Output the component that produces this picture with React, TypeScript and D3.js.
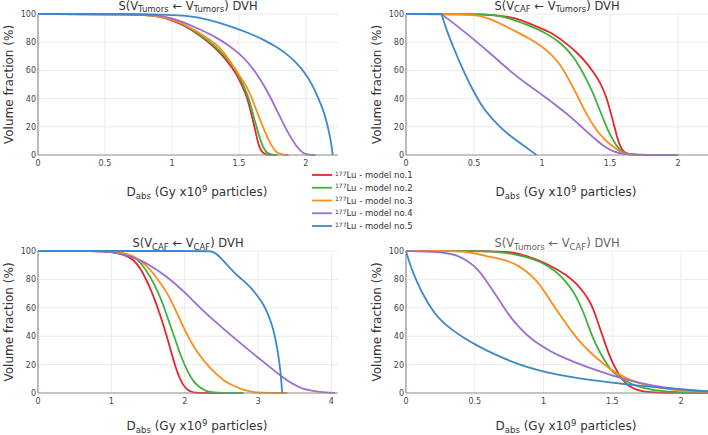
import React from "react";
import * as d3 from "d3";

type P = [number, number];

const modelNames = ["model no.1", "model no.2", "model no.3", "model no.4", "model no.5"];
const modelColors = ["#e8252a", "#3fb03f", "#ff8c1a", "#9d6dcf", "#3c88cc"];

const yTicks = [0, 20, 40, 60, 80, 100];
const xTicksA = [0, 0.5, 1, 1.5, 2];
const xTicksC = [0, 1, 2, 3, 4];

// Panel A: S(V_Tumors <- V_Tumors)
const aRed: P[] = [[0,100],[0.75,100],[0.9,98.5],[1.0,95.5],[1.08,92.5],[1.2,85.5],[1.33,75.6],[1.41,67],[1.48,58],[1.52,50],[1.56,41.4],[1.585,32],[1.61,22.5],[1.63,14],[1.644,8.3],[1.66,4],[1.68,1.2],[1.72,0],[1.76,0]];
const aGreen: P[] = [[0,100],[0.75,100],[0.9,98.5],[1.0,96],[1.08,93],[1.2,86],[1.33,76.8],[1.41,68.5],[1.48,60],[1.52,52],[1.56,43.8],[1.59,35],[1.61,27],[1.635,19],[1.66,10.6],[1.685,4.5],[1.71,1.2],[1.75,0],[1.79,0]];
const aOrange: P[] = [[0,100],[0.75,100],[0.9,98.5],[1.0,96],[1.08,93.4],[1.2,87],[1.33,79],[1.4,71.5],[1.46,62.6],[1.51,55.5],[1.56,48.4],[1.6,39.5],[1.63,32],[1.67,22],[1.71,13],[1.75,5.5],[1.78,1.5],[1.83,0],[1.87,0]];
const aPurple: P[] = [[0,100],[0.8,100],[0.9,99],[1.0,97],[1.08,94.5],[1.2,89.5],[1.33,83.5],[1.42,78],[1.51,71.5],[1.57,65.5],[1.63,58],[1.68,50.5],[1.73,42],[1.78,32.5],[1.83,22.5],[1.88,13.5],[1.93,6],[1.97,2],[2.0,0.5],[2.05,0],[2.07,0]];
const aBlue: P[] = [[0,100],[1.06,100],[1.2,97.5],[1.33,94.5],[1.45,90.8],[1.58,86.3],[1.68,82],[1.78,76.8],[1.86,71.5],[1.93,65.5],[2.0,57.5],[2.05,49.5],[2.09,41],[2.13,32],[2.16,22],[2.18,13],[2.195,5],[2.2,0]];

// Panel B: S(V_CAF <- V_Tumors)
const bRed: P[] = [[0,100],[0.64,100],[0.8,97.5],[0.936,92],[1.06,87.5],[1.18,79],[1.26,72.5],[1.33,65],[1.38,58.5],[1.43,51],[1.47,42],[1.5,32],[1.53,21],[1.55,13],[1.575,6],[1.6,2],[1.64,0.5],[1.7,0],[2.0,0]];
const bGreen: P[] = [[0,100],[0.52,100],[0.65,99.5],[0.765,97],[0.9,92],[1.01,87.5],[1.13,80.5],[1.23,70],[1.28,62],[1.33,53],[1.37,45],[1.4,38],[1.45,25.5],[1.5,14],[1.55,6],[1.59,2],[1.63,0.5],[1.7,0],[2.0,0]];
const bOrange: P[] = [[0,100],[0.45,100],[0.55,99],[0.69,93.5],[0.8,88],[0.9,83],[0.985,78],[1.05,73],[1.11,67],[1.16,60],[1.2,53],[1.25,44],[1.3,34],[1.35,25],[1.4,17.7],[1.45,12],[1.5,7.5],[1.57,2.5],[1.62,0.5],[1.7,0],[2.0,0]];
const bPurple: P[] = [[0,100],[0.26,100],[0.26,100],[0.35,93.5],[0.5,82],[0.65,69.5],[0.77,59],[0.9,49.5],[1.01,42],[1.1,35.5],[1.2,28],[1.3,19],[1.4,10.5],[1.47,5],[1.53,2.2],[1.6,0.6],[1.7,0.1],[1.9,0],[2.0,0]];
const bBlue: P[] = [[0,100],[0.26,100],[0.26,100],[0.26,100],[0.3,88],[0.35,76],[0.4,64.5],[0.45,54],[0.5,44.5],[0.556,35],[0.6,29.5],[0.667,22],[0.75,14.5],[0.86,7],[0.96,0]];

// Panel C: S(V_CAF <- V_CAF)
const cRed: P[] = [[0,100],[0.8,100],[1.0,99.5],[1.2,97],[1.3,94],[1.4,88],[1.53,74],[1.62,62],[1.71,48],[1.8,32],[1.89,15],[1.98,5],[2.05,1.5],[2.12,0.3],[2.2,0],[2.6,0]];
const cGreen: P[] = [[0,100],[0.8,100],[1.0,99.5],[1.2,97.5],[1.3,96],[1.4,92],[1.53,82],[1.62,73],[1.71,62],[1.78,51],[1.85,41],[1.92,30],[1.98,22],[2.05,14],[2.12,8],[2.2,4],[2.3,1],[2.4,0.3],[2.5,0],[2.8,0]];
const cOrange: P[] = [[0,100],[0.9,100],[1.1,99.5],[1.3,97],[1.48,90],[1.62,81],[1.76,71],[1.89,57],[2.03,41],[2.12,33],[2.21,26],[2.32,19],[2.44,13],[2.55,8],[2.67,5],[2.78,2.5],[2.89,1],[3.0,0.3],[3.12,0],[3.4,0]];
const cPurple: P[] = [[0,100],[0.8,100],[1.0,99.5],[1.3,96],[1.5,91],[1.76,82],[2.0,71],[2.21,60],[2.44,49],[2.67,39],[2.9,29],[3.0,25],[3.12,20],[3.24,15],[3.35,10.5],[3.47,6.5],[3.58,3.5],[3.7,1.8],[3.8,1],[4.0,0.2],[4.05,0]];
const cBlue: P[] = [[0,100],[2.35,100],[2.35,100],[2.42,98.5],[2.48,96],[2.58,90],[2.67,85],[2.78,80],[2.89,75],[3.0,68],[3.08,62],[3.14,55],[3.19,48],[3.23,40],[3.26,32],[3.29,22],[3.31,13],[3.32,6],[3.33,0]];

// Panel D: S(V_Tumors <- V_CAF)
const dRed: P[] = [[0,100],[0.635,100],[0.75,99.3],[0.85,97.5],[0.926,94.8],[1.047,90],[1.17,83],[1.23,78],[1.29,71.4],[1.33,65.5],[1.36,59.6],[1.385,53],[1.41,45.5],[1.435,38.5],[1.46,31.5],[1.485,25],[1.51,19.7],[1.556,11.5],[1.6,6.5],[1.63,4.4],[1.68,2],[1.75,0.6],[1.85,0.1],[2.2,0]];
const dGreen: P[] = [[0,100],[0.514,100],[0.65,99.5],[0.756,98.4],[0.87,96],[0.975,92.5],[1.05,88.5],[1.12,83],[1.17,77.5],[1.217,71.5],[1.255,64.5],[1.29,57],[1.325,47.5],[1.36,38.5],[1.4,30.5],[1.435,24.4],[1.47,19],[1.51,14],[1.58,9.2],[1.68,4.5],[1.8,1.8],[1.95,0.6],[2.1,0.2],[2.2,0.1]];
const dOrange: P[] = [[0,100],[0.37,100],[0.45,99.3],[0.562,97],[0.66,95],[0.756,92.5],[0.82,89.5],[0.878,85.5],[0.93,81],[0.975,76],[1.02,69.5],[1.07,62],[1.12,55],[1.17,48],[1.22,41.5],[1.265,36],[1.33,29.5],[1.387,24.5],[1.45,19.5],[1.51,15],[1.57,12],[1.63,9.2],[1.7,6.8],[1.8,4.2],[1.95,2],[2.1,0.8],[2.2,0.4]];
const dPurple: P[] = [[0,100],[0.2,99.5],[0.3,98.5],[0.37,97],[0.43,94],[0.49,90],[0.54,85],[0.587,78.5],[0.64,71],[0.684,64.5],[0.73,57.5],[0.78,51],[0.84,44.5],[0.9,39],[0.97,34],[1.047,29.5],[1.13,25.5],[1.217,22],[1.41,15],[1.6,9.2],[1.8,5],[2.0,2.3],[2.2,1]];
const dBlue: P[] = [[0,100],[0,100],[0.03,90],[0.078,78.5],[0.13,68],[0.2,57],[0.26,50.5],[0.32,45.5],[0.41,39.5],[0.514,33.5],[0.63,27.8],[0.756,22.5],[0.88,18.3],[1.0,15],[1.24,10.3],[1.48,7.5],[1.65,5.6],[1.85,3.8],[2.05,2.2],[2.2,1.2]];

type Panel = {
  id: string;
  src: string;
  dst: string;
  titleColor: string;
  left: number; right: number; top: number; bottom: number;
  xMax: number;
  xTicks: number[];
  series: P[][];
  yTitleX: number;
  titleY: number;
  xTitleY: number;
};

const panels: Panel[] = [
  { id: "a", src: "Tumors", dst: "Tumors", titleColor: "#333", left: 38, right: 338, top: 14, bottom: 155, xMax: 2.24, xTicks: xTicksA, series: [aRed, aGreen, aOrange, aPurple, aBlue], yTitleX: 13, titleY: 9.5, xTitleY: 196 },
  { id: "b", src: "CAF", dst: "Tumors", titleColor: "#333", left: 406, right: 708, top: 14, bottom: 155, xMax: 2.22, xTicks: xTicksA, series: [bRed, bGreen, bOrange, bPurple, bBlue], yTitleX: 381, titleY: 9.5, xTitleY: 196 },
  { id: "c", src: "CAF", dst: "CAF", titleColor: "#333", left: 38, right: 338, top: 251, bottom: 393, xMax: 4.09, xTicks: xTicksC, series: [cRed, cGreen, cOrange, cPurple, cBlue], yTitleX: 13, titleY: 247, xTitleY: 430 },
  { id: "d", src: "Tumors", dst: "CAF", titleColor: "#666", left: 406, right: 708, top: 251, bottom: 393, xMax: 2.196, xTicks: xTicksA, series: [dRed, dGreen, dOrange, dPurple, dBlue], yTitleX: 381, titleY: 247, xTitleY: 430 },
];

const FONT = "'DejaVu Sans', Verdana, sans-serif";

function PanelView({ p }: { p: Panel }) {
  const x = d3.scaleLinear().domain([0, p.xMax]).range([p.left, p.right]);
  const y = d3.scaleLinear().domain([0, 100]).range([p.bottom, p.top]);
  const line = d3.line<P>().x(d => x(d[0])).y(d => y(d[1])).curve(d3.curveBasis);
  const cx = (p.left + p.right) / 2;
  const cy = (p.top + p.bottom) / 2;
  return (
    <g>
      <defs>
        <clipPath id={"clip-" + p.id}>
          <rect x={p.left} y={p.top - 2} width={p.right - p.left} height={p.bottom - p.top + 4} />
        </clipPath>
      </defs>
      {p.xTicks.filter(t => t > 0).map(t => (
        <line key={"gx" + t} x1={x(t)} x2={x(t)} y1={p.top} y2={p.bottom} stroke="#ebebeb" strokeWidth={1} />
      ))}
      {yTicks.filter(t => t > 0).map(t => (
        <line key={"gy" + t} x1={p.left} x2={p.right} y1={y(t)} y2={y(t)} stroke="#ebebeb" strokeWidth={1} />
      ))}
      <g clipPath={`url(#clip-${p.id})`}>
        {p.series.map((s, i) => (
          <path key={i} d={line(s) || ""} fill="none" stroke={modelColors[i]} strokeWidth={1.8} />
        ))}
      </g>
      <line x1={p.left} x2={p.left} y1={p.top} y2={p.bottom} stroke="#8a8a8a" strokeWidth={1.2} />
      <line x1={p.left} x2={p.right} y1={p.bottom} y2={p.bottom} stroke="#8a8a8a" strokeWidth={1.2} />
      {yTicks.map(t => (
        <text key={"ty" + t} x={p.left - 2} y={y(t) + 3} textAnchor="end" fontSize={8} fill="#444" fontFamily={FONT}>{t}</text>
      ))}
      {p.xTicks.map(t => (
        <text key={"tx" + t} x={x(t)} y={p.bottom + 11} textAnchor="middle" fontSize={8} fill="#444" fontFamily={FONT}>{t}</text>
      ))}
      <text x={cx} y={p.titleY} textAnchor="middle" fontSize={11.5} fill={p.titleColor} fontFamily={FONT}>
        <tspan>S(V</tspan>
        <tspan fontSize={8.5} dy={2.5}>{p.src}</tspan>
        <tspan dy={-2.5}> ← V</tspan>
        <tspan fontSize={8.5} dy={2.5}>{p.dst}</tspan>
        <tspan dy={-2.5}>) DVH</tspan>
      </text>
      <text x={cx + 9} y={p.xTitleY} textAnchor="middle" fontSize={12} fill="#333" fontFamily={FONT}>
        <tspan>D</tspan>
        <tspan fontSize={8.5} dy={2.5}>abs</tspan>
        <tspan dy={-2.5}> (Gy x10</tspan>
        <tspan fontSize={8.5} dy={-4}>9</tspan>
        <tspan dy={4}> particles)</tspan>
      </text>
      <text transform={`translate(${p.yTitleX},${cy}) rotate(-90)`} textAnchor="middle" fontSize={12} fill="#333" fontFamily={FONT}>Volume fraction (%)</text>
    </g>
  );
}

export default function App() {
  const legendY = d3.scaleLinear().domain([0, 4]).range([175, 226]);
  return (
    <svg width={708} height={435} style={{ position: "absolute", left: 0, top: 0, background: "#fff" }}>
      <rect width={708} height={435} fill="#fff" />
      {panels.map(p => <PanelView key={p.id} p={p} />)}
      <g>
        {modelNames.map((m, i) => (
          <g key={m}>
            <line x1={312} x2={332} y1={legendY(i)} y2={legendY(i)} stroke={modelColors[i]} strokeWidth={1.8} />
            <text x={335} y={legendY(i) + 3} fontSize={8.5} fill="#333" fontFamily={FONT}>
              <tspan fontSize={6} dy={-2.5}>177</tspan>
              <tspan dy={2.5}>Lu - {m}</tspan>
            </text>
          </g>
        ))}
      </g>
    </svg>
  );
}
